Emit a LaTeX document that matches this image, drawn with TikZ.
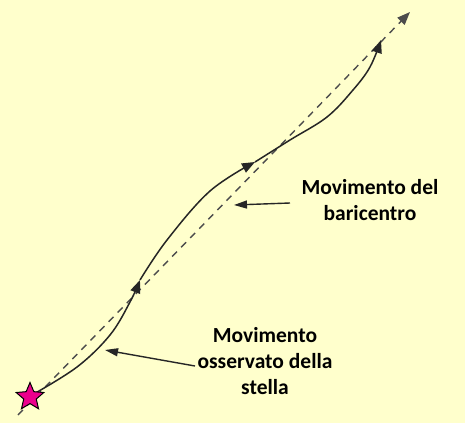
\documentclass[tikz,border=0pt]{standalone}
\usepackage{fontspec}
\setmainfont{Carlito}
\usetikzlibrary{shapes.geometric,arrows.meta}
\definecolor{bgyellow}{HTML}{FFFFCC}
\tikzset{
  curveline/.style={line width=1.5pt, black!85},
  dashline/.style={line width=1.4pt, black!70, dash pattern=on 7pt off 6pt},
  tip/.style={-{Triangle[length=13pt,width=10pt]}},
  pointer/.style={line width=1.4pt, black!85, -{Triangle[length=13pt,width=8pt]}},
  lbl/.style={font=\fontsize{21.5}{26}\selectfont\bfseries, align=center, text=black}
}
\begin{document}
\begin{tikzpicture}[x=1pt,y=-1pt]
\useasboundingbox (0,0) rectangle (465,423);
\fill[bgyellow] (0,0) rectangle (465,423);
% dashed baricentre line
\coordinate (d0) at (18,415);
\coordinate (d1) at (410,12);
\draw[dashline, tip] (d0) -- (d1);
% observed star motion
\coordinate (s0) at (32,395);
\coordinate (a1) at (140,280);
\coordinate (a2) at (255,162);
\coordinate (a3) at (381,40);
\draw[curveline, tip] plot[smooth, tension=0.6] coordinates {(s0) (77,367) (110,335) (130,302) (a1)};
\draw[curveline, tip] plot[smooth, tension=0.6] coordinates {(a1) (167,240) (210,191) (a2)};
\draw[curveline, tip] plot[smooth, tension=0.6] coordinates {(a2) (290,140) (327,117) (353,90) (370,67) (a3)};
% star
\node[star, star points=5, star point ratio=2.2, minimum size=29pt, inner sep=0pt, fill=magenta, draw=black, line width=1pt] (star) at (30,397) {};
% labels
\node[lbl] (lb) at (370,200) {Movimento del\\baricentro};
\node[lbl] (lo) at (265,361) {Movimento\\osservato della\\stella};
\coordinate (pb) at (290,203);
\coordinate (po) at (195,366);
\draw[pointer] (pb) -- (234,205);
\draw[pointer] (po) -- (105,350);
\end{tikzpicture}
\end{document}
